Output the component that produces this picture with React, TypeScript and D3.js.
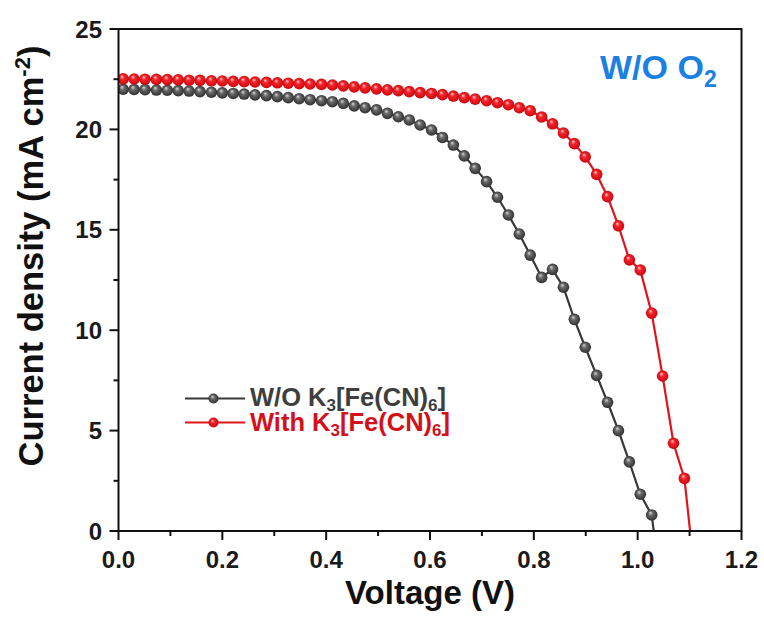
import React from "react";
import * as d3 from "d3";

const voltage = [
  0.009, 0.030, 0.051, 0.073, 0.094, 0.115, 0.136, 0.157, 0.179, 0.200,
  0.221, 0.242, 0.263, 0.285, 0.306, 0.327, 0.348, 0.369, 0.391, 0.412,
  0.433, 0.454, 0.475, 0.497, 0.518, 0.539, 0.560, 0.581, 0.603, 0.624,
  0.645, 0.666, 0.687, 0.709, 0.730, 0.751, 0.772, 0.793, 0.815, 0.836,
  0.857, 0.878, 0.899, 0.921, 0.942, 0.963, 0.984, 1.005, 1.027, 1.048,
  1.069, 1.090, 1.111,
];

const currentWithout = [
  22.00, 21.99, 21.98, 21.96, 21.95, 21.93, 21.91, 21.88, 21.85, 21.82,
  21.79, 21.76, 21.72, 21.68, 21.63, 21.58, 21.53, 21.48, 21.43, 21.38,
  21.30, 21.17, 21.08, 20.97, 20.80, 20.63, 20.47, 20.22, 19.97, 19.60,
  19.22, 18.68, 18.06, 17.40, 16.62, 15.74, 14.79, 13.74, 12.63, 13.03,
  12.14, 10.54, 9.15, 7.75, 6.41, 5.00, 3.44, 1.83, 0.80, -3.4,
];

const currentWith = [
  22.52, 22.51, 22.50, 22.49, 22.48, 22.47, 22.45, 22.44, 22.42, 22.41,
  22.39, 22.38, 22.36, 22.34, 22.32, 22.30, 22.28, 22.26, 22.24, 22.21,
  22.17, 22.12, 22.07, 22.02, 21.97, 21.93, 21.88, 21.83, 21.79, 21.73,
  21.66, 21.58, 21.51, 21.43, 21.33, 21.23, 21.08, 20.93, 20.62, 20.28,
  19.82, 19.29, 18.63, 17.76, 16.65, 15.20, 13.50, 13.00, 10.85, 7.72,
  4.37, 2.62, -2.4,
];

const xTicks = [0.0, 0.2, 0.4, 0.6, 0.8, 1.0, 1.2];
const xMinorTicks = [0.1, 0.3, 0.5, 0.7, 0.9, 1.1];
const yTicks = [0, 5, 10, 15, 20, 25];
const yMinorTicks = [2.5, 7.5, 12.5, 17.5, 22.5];

const W = 764;
const H = 628;
const M = { left: 118.5, right: 741.5, top: 29, bottom: 531 };
const FONT = "'Liberation Sans', Arial, Helvetica, sans-serif";

export default function App() {
  const x = d3.scaleLinear().domain([0, 1.2]).range([M.left, M.right]);
  const y = d3.scaleLinear().domain([0, 25]).range([M.bottom, M.top]);

  const seriesA = currentWithout.map((j, i) => [voltage[i], j] as [number, number]);
  const seriesB = currentWith.map((j, i) => [voltage[i], j] as [number, number]);

  const line = d3
    .line<[number, number]>()
    .x((d) => x(d[0]))
    .y((d) => y(d[1]));

  const r = 5.8;

  return (
    <svg
      width={W}
      height={H}
      style={{ position: "absolute", left: 0, top: 0, background: "#fff" }}
      fontFamily={FONT}
    >
      <defs>
        <radialGradient id="gBlack" cx="0.5" cy="0.5" r="0.55" fx="0.38" fy="0.3">
          <stop offset="0" stopColor="#d8d8d8" />
          <stop offset="0.35" stopColor="#6a6a6a" />
          <stop offset="0.8" stopColor="#3c3c3c" />
          <stop offset="1" stopColor="#2a2a2a" />
        </radialGradient>
        <radialGradient id="gRed" cx="0.5" cy="0.5" r="0.55" fx="0.38" fy="0.3">
          <stop offset="0" stopColor="#ffc8c8" />
          <stop offset="0.35" stopColor="#f0262c" />
          <stop offset="0.8" stopColor="#d80d14" />
          <stop offset="1" stopColor="#b00008" />
        </radialGradient>
        <clipPath id="plotClip">
          <rect x={M.left} y={M.top} width={M.right - M.left} height={M.bottom - M.top} />
        </clipPath>
      </defs>

      <rect x={0} y={0} width={W} height={H} fill="#fff" />

      <g clipPath="url(#plotClip)">
        <path d={line(seriesA) || ""} fill="none" stroke="#383838" strokeWidth={2.2} />
        {seriesA.map((d, i) => (
          <circle key={"a" + i} cx={x(d[0])} cy={y(d[1])} r={r} fill="url(#gBlack)" />
        ))}
        <path d={line(seriesB) || ""} fill="none" stroke="#e0141c" strokeWidth={2.2} />
        {seriesB.map((d, i) => (
          <circle key={"b" + i} cx={x(d[0])} cy={y(d[1])} r={r} fill="url(#gRed)" />
        ))}
      </g>

      {/* frame */}
      <rect
        x={M.left}
        y={M.top}
        width={M.right - M.left}
        height={M.bottom - M.top}
        fill="none"
        stroke="#111"
        strokeWidth={2}
      />

      {/* x axis ticks */}
      {xTicks.map((t) => (
        <g key={"xt" + t}>
          <line x1={x(t)} x2={x(t)} y1={M.bottom} y2={M.bottom + 9} stroke="#111" strokeWidth={2} />
          <text
            x={x(t)}
            y={568}
            textAnchor="middle"
            fontSize={24}
            fontWeight="bold"
            fill="#1a1a1a"
          >
            {t.toFixed(1)}
          </text>
        </g>
      ))}
      {xMinorTicks.map((t) => (
        <line key={"xm" + t} x1={x(t)} x2={x(t)} y1={M.bottom} y2={M.bottom + 5} stroke="#111" strokeWidth={2} />
      ))}

      {/* y axis ticks */}
      {yTicks.map((t) => (
        <g key={"yt" + t}>
          <line x1={M.left - 9} x2={M.left} y1={y(t)} y2={y(t)} stroke="#111" strokeWidth={2} />
          <text
            x={102}
            y={y(t)}
            dy="0.36em"
            textAnchor="end"
            fontSize={24}
            fontWeight="bold"
            fill="#1a1a1a"
          >
            {t}
          </text>
        </g>
      ))}
      {yMinorTicks.map((t) => (
        <line key={"ym" + t} x1={M.left - 5} x2={M.left} y1={y(t)} y2={y(t)} stroke="#111" strokeWidth={2} />
      ))}

      {/* axis titles */}
      <text
        x={430}
        y={604}
        textAnchor="middle"
        fontSize={33}
        fontWeight="bold"
        fill="#111"
      >
        Voltage (V)
      </text>
      <text
        transform={`translate(43, 256) rotate(-90)`}
        textAnchor="middle"
        fontSize={34.5}
        fontWeight="bold"
        fill="#111"
      >
        Current density (mA cm<tspan dy={-13} fontSize={22}>-2</tspan><tspan dy={13}>)</tspan>
      </text>

      {/* annotation */}
      <text x={600} y={79} fontSize={34} fontWeight="bold" fill="#1c7fe3">
        W/O O<tspan dy={8} fontSize={23}>2</tspan>
      </text>

      {/* legend */}
      <g>
        <line x1={185} x2={245} y1={398.5} y2={398.5} stroke="#383838" strokeWidth={2.2} />
        <circle cx={213.5} cy={398.5} r={5} fill="url(#gBlack)" />
        <text x={250} y={406} fontSize={25.5} fontWeight="bold" fill="#3e3e3e">
          W/O K<tspan dy={5} fontSize={17}>3</tspan><tspan dy={-5}>[Fe(CN)</tspan><tspan dy={5} fontSize={17}>6</tspan><tspan dy={-5}>]</tspan>
        </text>
        <line x1={185} x2={245} y1={422.5} y2={422.5} stroke="#e0141c" strokeWidth={2.2} />
        <circle cx={213.5} cy={422.5} r={5} fill="url(#gRed)" />
        <text x={250} y={430.5} fontSize={25.5} fontWeight="bold" fill="#d4101a">
          With K<tspan dy={5} fontSize={17}>3</tspan><tspan dy={-5}>[Fe(CN)</tspan><tspan dy={5} fontSize={17}>6</tspan><tspan dy={-5}>]</tspan>
        </text>
      </g>
    </svg>
  );
}
